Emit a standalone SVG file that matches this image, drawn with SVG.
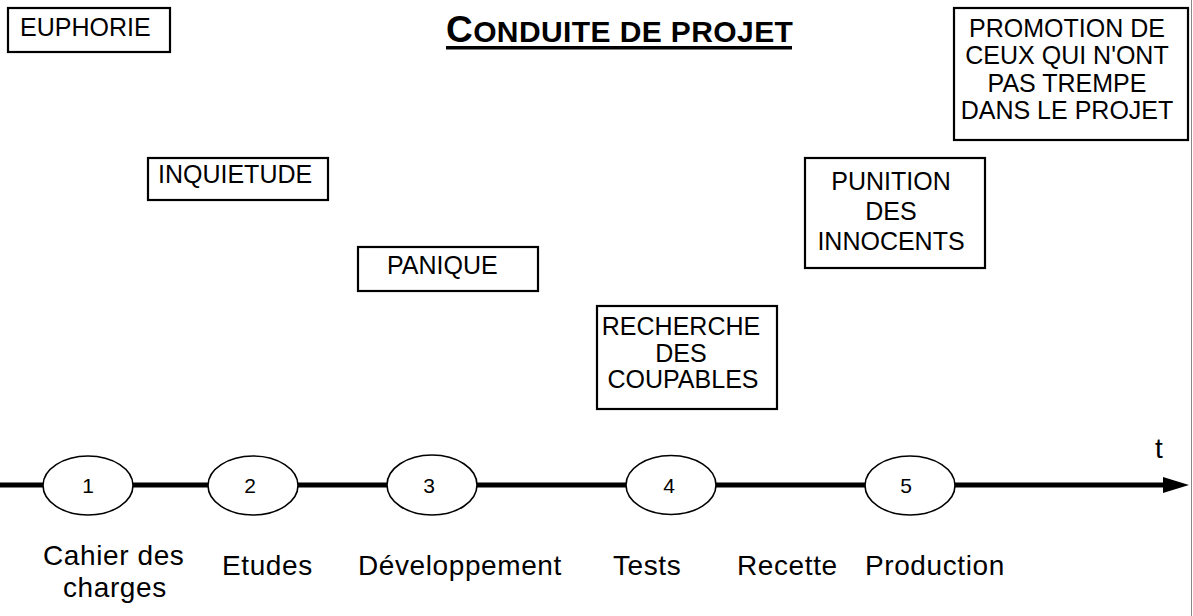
<svg xmlns="http://www.w3.org/2000/svg" width="1193" height="616" viewBox="0 0 1193 616">
<style>
.box{fill:#fff;stroke:#000;stroke-width:2.2}
.ell{fill:#fff;stroke:#000;stroke-width:1.6}
.t{font-family:"Liberation Sans",Arial,sans-serif;font-size:25px;fill:#000}
.c{text-anchor:middle}
.num{font-family:"Liberation Sans",Arial,sans-serif;font-size:21px;fill:#000;text-anchor:middle}
.lab{font-family:"Liberation Sans",Arial,sans-serif;font-size:28px;letter-spacing:0.6px;fill:#000}
.title{font-family:"Liberation Sans",Arial,sans-serif;font-weight:bold;letter-spacing:0.4px;fill:#000}
</style>
<defs>
<marker id="arr" markerWidth="30" markerHeight="20" refX="0" refY="8" orient="auto" markerUnits="userSpaceOnUse">
<path d="M0,0 L26,8 L0,16 Z" fill="#000"/>
</marker>
</defs>
<rect width="1193" height="616" fill="#fff"/>
<line x1="1191.5" y1="0" x2="1191.5" y2="616" stroke="#888" stroke-width="1"/>
<g id="title">
<text class="title" x="446" y="42"><tspan font-size="37">C</tspan><tspan font-size="30">ONDUITE DE PROJET</tspan></text>
<rect x="446" y="46" width="346" height="3.5" fill="#000"/>
</g>
<g id="connectors">
<line x1="0" y1="485" x2="1163" y2="485" stroke="#000" stroke-width="5" marker-end="url(#arr)"/>
</g>
<g id="euphorie">
<rect class="box" x="8" y="8" width="162" height="44"/>
<text class="t" x="20" y="36">EUPHORIE</text>
</g>
<g id="inquietude">
<rect class="box" x="148" y="158" width="180" height="42"/>
<text class="t" x="158" y="183">INQUIETUDE</text>
</g>
<g id="panique">
<rect class="box" x="358" y="247" width="180" height="44"/>
<text class="t" x="387" y="274">PANIQUE</text>
</g>
<g id="recherche">
<rect class="box" x="597" y="306" width="180" height="103"/>
<text class="t c" x="681" y="335">RECHERCHE</text>
<text class="t c" x="681" y="362">DES</text>
<text class="t c" x="683" y="388">COUPABLES</text>
</g>
<g id="punition">
<rect class="box" x="805" y="158" width="180" height="110"/>
<text class="t c" x="891" y="190">PUNITION</text>
<text class="t c" x="891" y="220">DES</text>
<text class="t c" x="891" y="250">INNOCENTS</text>
</g>
<g id="promotion">
<rect class="box" x="954" y="8" width="234" height="132"/>
<text class="t c" x="1067" y="37">PROMOTION DE</text>
<text class="t c" x="1067" y="64">CEUX QUI N'ONT</text>
<text class="t c" x="1067" y="92">PAS TREMPE</text>
<text class="t c" x="1067" y="119">DANS LE PROJET</text>
</g>
<g id="t-label">
<text class="lab" x="1155" y="458">t</text>
</g>
<g id="phase1">
<ellipse class="ell" cx="88" cy="485.5" rx="45" ry="29.5"/>
<text class="num" x="88" y="493">1</text>
<text class="lab" x="43" y="565">Cahier des</text>
<text class="lab" x="63" y="597">charges</text>
</g>
<g id="phase2">
<ellipse class="ell" cx="253" cy="485.5" rx="45" ry="29.5"/>
<text class="num" x="250" y="493">2</text>
<text class="lab" x="222" y="575">Etudes</text>
</g>
<g id="phase3">
<ellipse class="ell" cx="432" cy="485" rx="45" ry="30"/>
<text class="num" x="429" y="493">3</text>
<text class="lab" x="358" y="575">Développement</text>
</g>
<g id="phase4">
<ellipse class="ell" cx="671" cy="485" rx="45" ry="29.5"/>
<text class="num" x="669" y="493">4</text>
<text class="lab" x="613" y="575">Tests</text>
</g>
<g id="recette">
<text class="lab" x="737" y="575">Recette</text>
</g>
<g id="phase5">
<ellipse class="ell" cx="910" cy="485.5" rx="45" ry="29.5"/>
<text class="num" x="906" y="493">5</text>
<text class="lab" x="865" y="575">Production</text>
</g>
</svg>
